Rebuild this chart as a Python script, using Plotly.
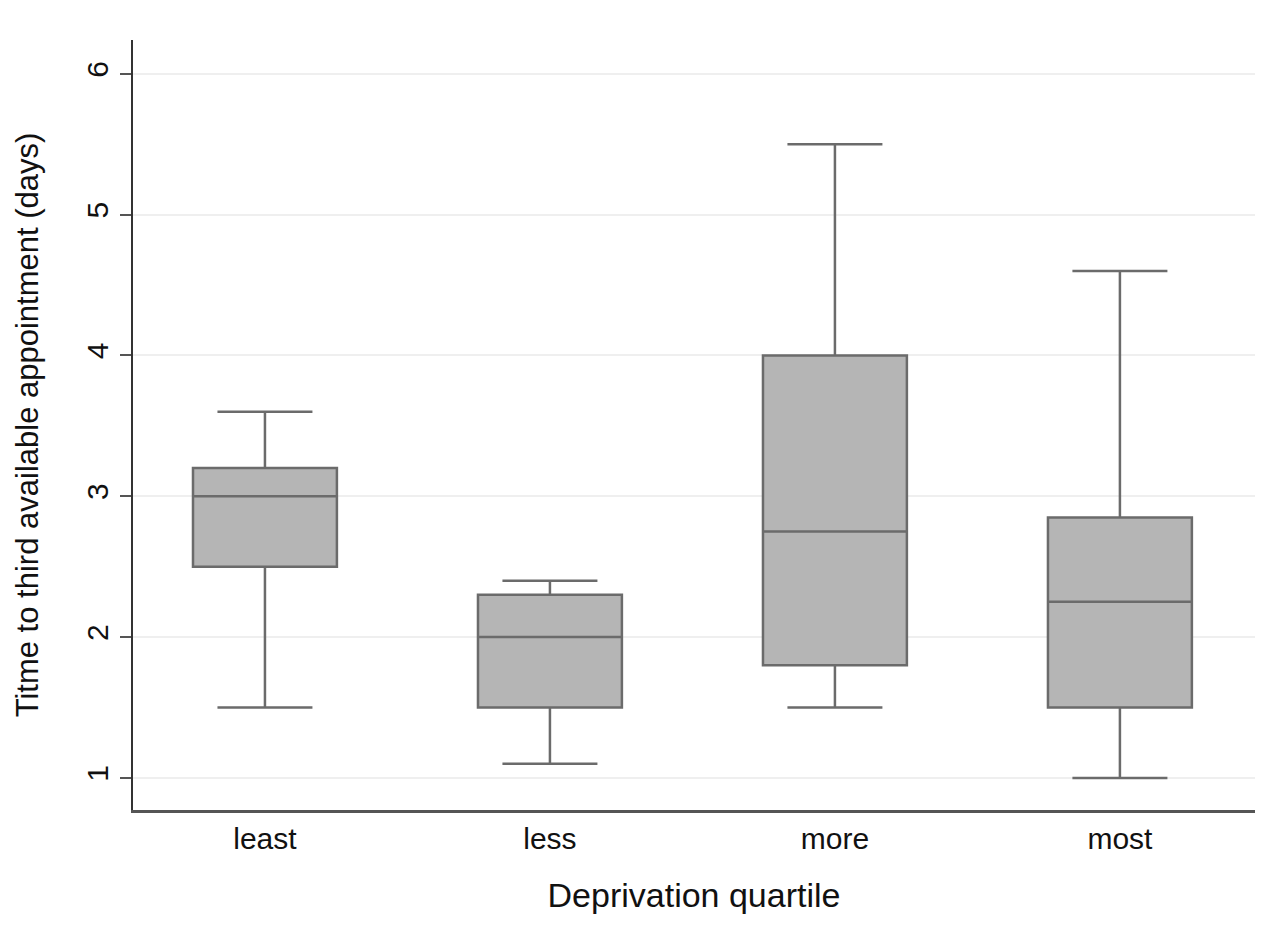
import plotly.graph_objects as go

categories = ["least", "less", "more", "most"]
lower_whisker = [1.5, 1.1, 1.5, 1.0]
q1 = [2.5, 1.5, 1.8, 1.5]
median = [3.0, 2.0, 2.75, 2.25]
q3 = [3.2, 2.3, 4.0, 2.85]
upper_whisker = [3.6, 2.4, 5.5, 4.6]
y_ticks = [1, 2, 3, 4, 5, 6]

FONT = "Liberation Sans, Arial, Helvetica, sans-serif"

fig = go.Figure()
fig.add_trace(go.Box(
    x=categories,
    q1=q1,
    median=median,
    q3=q3,
    lowerfence=lower_whisker,
    upperfence=upper_whisker,
    boxpoints=False,
    width=0.505,
    whiskerwidth=0.66,
    fillcolor="#b5b5b5",
    line=dict(color="#6b6b6b", width=2.5),
    showlegend=False,
))

fig.update_layout(
    width=1278,
    height=937,
    margin=dict(l=125, r=31, t=32, b=135, autoexpand=False),
    paper_bgcolor="white",
    plot_bgcolor="white",
    font=dict(family=FONT, color="#111111"),
    xaxis=dict(
        range=[-0.463, 3.474],
        showline=True,
        linecolor="#555555",
        linewidth=2.5,
        showgrid=False,
        zeroline=False,
        ticks="",
        tickfont=dict(size=30, family=FONT, color="#111111"),
        title=dict(text="Deprivation quartile", font=dict(size=34, family=FONT, color="#111111"), standoff=30),
    ),
    yaxis=dict(
        range=[0.772, 6.24],
        tickvals=y_ticks,
        showline=True,
        linecolor="#333333",
        linewidth=2,
        ticks="outside",
        ticklen=11,
        tickwidth=2,
        tickcolor="#555555",
        tickangle=-90,
        tickfont=dict(size=30, family=FONT, color="#111111"),
        showgrid=True,
        gridcolor="#efefef",
        gridwidth=2,
        zeroline=False,
        title=dict(text="Titme to third available appointment (days)", font=dict(size=31, family=FONT, color="#111111"), standoff=33),
    ),
)

fig.write_html("out.html")
